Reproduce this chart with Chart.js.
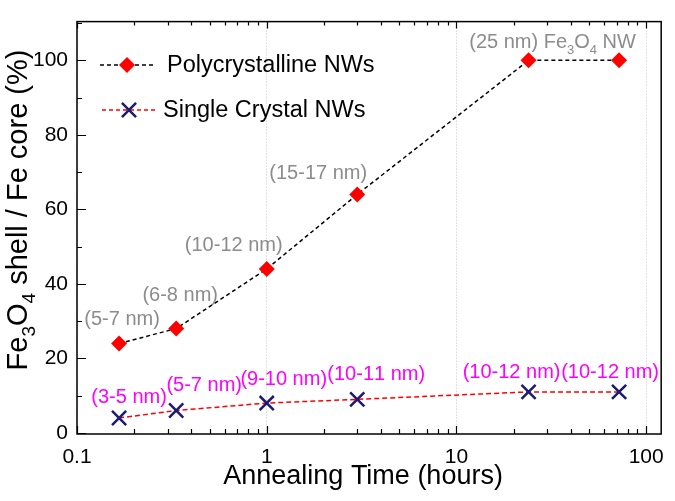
<!DOCTYPE html>
<html>
<head>
<meta charset="utf-8">
<script src="https://cdn.jsdelivr.net/npm/chart.js@4.4.0/dist/chart.umd.min.js"></script>
<style>
html, body { margin: 0; padding: 0; background: #fff; }
#wrap { width: 675px; height: 501px; }
</style>
</head>
<body>
<div id="wrap"><canvas id="myChart"></canvas></div>
<script>
// annealing time (hours)
var hours = [1/6, 1/3, 1, 3, 24, 72];
// Fe3O4 shell / Fe core (%)
var poly = [24, 28, 44, 64, 100, 100];
var single = [4, 6, 8, 9, 11, 11];
// shell thickness labels ('_' = subscript)
var polyLabels = ['(5-7 nm)', '(6-8 nm)', '(10-12 nm)', '(15-17 nm)', '(25 nm) Fe_3O_4 NW', ''];
var singleLabels = ['(3-5 nm)', '(5-7 nm)', '(9-10 nm)', '(10-11 nm)', '(10-12 nm)', '(10-12 nm)'];
var xTicks = [0.1, 1, 10, 100];
var yTicks = [0, 20, 40, 60, 80, 100];

var FONT = '"Liberation Sans", Arial, sans-serif';
var GRAY = '#8c8c8c';
var MAGENTA = '#ff00ff';
var NAVY = '#1b1b72';

// draw text with subscripts, centered on x
function richText(ctx, text, x, y, size, align) {
  var parts = [];
  for (var i = 0; i < text.length; i++) {
    if (text[i] === '_' && i + 1 < text.length) {
      parts.push({ t: text[i + 1], sub: true });
      i++;
    } else {
      parts.push({ t: text[i], sub: false });
    }
  }
  var subSize = Math.round(size * 0.66);
  var w = 0;
  parts.forEach(function (p) {
    ctx.font = (p.sub ? subSize : size) + 'px ' + FONT;
    p.w = ctx.measureText(p.t).width;
    w += p.w;
  });
  var cx = align === 'left' ? x : x - w / 2;
  ctx.textAlign = 'left';
  ctx.textBaseline = 'middle';
  parts.forEach(function (p) {
    ctx.font = (p.sub ? subSize : size) + 'px ' + FONT;
    ctx.fillText(p.t, cx, p.sub ? y + size * 0.38 : y);
    cx += p.w;
  });
}

var extras = {
  id: 'extras',
  afterDraw: function (chart) {
    var ctx = chart.ctx;
    var a = chart.chartArea;
    var xs = chart.scales.x, ys = chart.scales.y;
    ctx.save();

    // frame
    ctx.strokeStyle = '#000';
    ctx.lineWidth = 1.5;
    ctx.strokeRect(a.left, a.top, a.right - a.left, a.bottom - a.top);

    // inward ticks, x (bottom and top)
    ctx.lineWidth = 1.2;
    ctx.beginPath();
    [0.1, 1, 10].forEach(function (d) {
      for (var m = 1; m <= 9; m++) {
        var v = d * m;
        var px = Math.round(xs.getPixelForValue(v)) + 0.5;
        var len = m === 1 ? 8 : 5;
        ctx.moveTo(px, a.bottom); ctx.lineTo(px, a.bottom - len);
        ctx.moveTo(px, a.top); ctx.lineTo(px, a.top + (m === 1 ? 7 : 4));
      }
    });
    var p100 = Math.round(xs.getPixelForValue(100)) + 0.5;
    ctx.moveTo(p100, a.bottom); ctx.lineTo(p100, a.bottom - 8);
    ctx.moveTo(p100, a.top); ctx.lineTo(p100, a.top + 7);
    // y
    for (var v = 0; v <= 110; v += 10) {
      var py = Math.round(ys.getPixelForValue(v)) + 0.5;
      ctx.moveTo(a.left, py); ctx.lineTo(a.left + (v % 20 === 0 ? 9 : 5), py);
    }
    ctx.stroke();

    // point labels
    var offP = [[3, -24], [4, -33], [-33, -23], [-39, -21], [24, -18], [0, 0]];
    var offS = [[10, -20], [28, -25], [17, -24], [19, -25], [-17, -19], [-9, -19]];
    ctx.fillStyle = GRAY;
    polyLabels.forEach(function (t, i) {
      if (!t) return;
      var x = xs.getPixelForValue(hours[i]) + offP[i][0];
      var y = ys.getPixelForValue(poly[i]) + offP[i][1];
      richText(ctx, t, x, y, 20, 'center');
    });
    ctx.fillStyle = MAGENTA;
    singleLabels.forEach(function (t, i) {
      var x = xs.getPixelForValue(hours[i]) + offS[i][0];
      var y = ys.getPixelForValue(single[i]) + offS[i][1];
      richText(ctx, t, x, y, 20, 'center');
    });

    // legend
    ctx.lineWidth = 1.5;
    ctx.setLineDash([4, 3]);
    ctx.strokeStyle = '#000';
    ctx.beginPath(); ctx.moveTo(100, 65); ctx.lineTo(154, 65); ctx.stroke();
    ctx.strokeStyle = '#ff0000';
    ctx.beginPath(); ctx.moveTo(102, 110); ctx.lineTo(157, 110); ctx.stroke();
    ctx.setLineDash([]);
    ctx.fillStyle = '#ff0000';
    Chart.helpers.drawPoint(ctx, { pointStyle: 'rectRot', radius: 8, rotation: 0, borderWidth: 0 }, 127, 65);
    ctx.strokeStyle = NAVY;
    ctx.lineWidth = 2.5;
    Chart.helpers.drawPoint(ctx, { pointStyle: 'crossRot', radius: 10, rotation: 0, borderWidth: 2.5 }, 129, 110);
    ctx.fillStyle = '#000';
    ctx.font = '23.5px ' + FONT;
    ctx.textAlign = 'left';
    ctx.textBaseline = 'middle';
    ctx.fillText('Polycrystalline NWs', 167, 66);
    ctx.fillText('Single Crystal NWs', 163, 111);

    // axis titles
    ctx.fillStyle = '#000';
    ctx.font = '27px ' + FONT;
    ctx.textAlign = 'center';
    ctx.fillText('Annealing Time (hours)', (a.left + a.right) / 2 - 6, 477);
    ctx.save();
    ctx.translate(19, 210);
    ctx.rotate(-Math.PI / 2);
    richText(ctx, 'Fe_3O_4 shell / Fe core (%)', 0, 0, 29, 'center');
    ctx.restore();

    ctx.restore();
  }
};

var ctx = document.getElementById('myChart').getContext('2d');
var myChart = new Chart(ctx, {
  type: 'line',
  data: {
    datasets: [{
      label: 'Polycrystalline NWs',
      data: hours.map(function (h, i) { return { x: h, y: poly[i] }; }),
      borderColor: '#000',
      borderWidth: 1.5,
      borderDash: [4, 3],
      pointStyle: 'rectRot',
      pointRadius: 8,
      pointBackgroundColor: '#ff0000',
      pointBorderColor: '#ff0000',
      pointBorderWidth: 0,
      tension: 0
    }, {
      label: 'Single Crystal NWs',
      data: hours.map(function (h, i) { return { x: h, y: single[i] }; }),
      borderColor: '#ff0000',
      borderWidth: 1.5,
      borderDash: [5, 3],
      pointStyle: 'crossRot',
      pointRadius: 10,
      pointBorderColor: NAVY,
      pointBorderWidth: 2.5,
      tension: 0
    }]
  },
  options: {
    responsive: true,
    maintainAspectRatio: false,
    animation: false,
    layout: { padding: { top: 8, right: 10, left: 0, bottom: 0 } },
    plugins: {
      legend: { display: false },
      tooltip: { enabled: false }
    },
    scales: {
      x: {
        type: 'logarithmic',
        min: 0.1,
        max: 120,
        afterBuildTicks: function (s) { s.ticks = xTicks.map(function (v) { return { value: v }; }); },
        afterFit: function (s) { s.height = 67; },
        ticks: {
          color: '#000',
          font: { family: FONT, size: 21 },
          padding: 11,
          maxRotation: 0,
          autoSkip: false,
          callback: function (v) { return String(v); }
        },
        grid: {
          color: '#c4c4c4',
          lineWidth: 1,
          drawTicks: false
        },
        border: { display: false, dash: [1, 2] }
      },
      y: {
        min: -0.3,
        max: 110.4,
        afterBuildTicks: function (s) { s.ticks = yTicks.map(function (v) { return { value: v }; }); },
        afterFit: function (s) { s.width = 77; },
        ticks: {
          color: '#000',
          font: { family: FONT, size: 21 },
          padding: 9
        },
        grid: { display: false, drawTicks: false },
        border: { display: false }
      }
    }
  },
  plugins: [extras]
});
</script>
</body>
</html>
